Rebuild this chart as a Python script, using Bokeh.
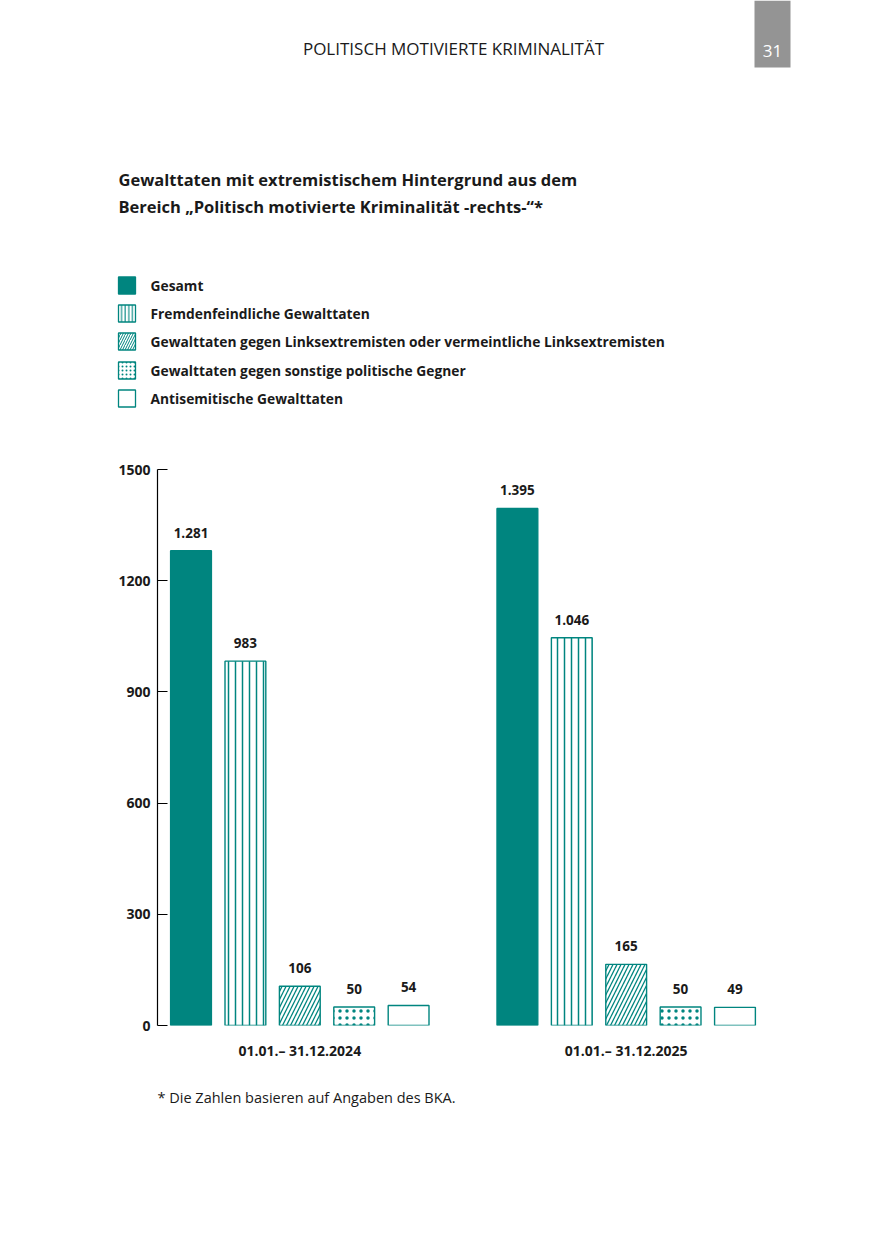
from bokeh.plotting import figure
from bokeh.models import Range1d, FixedTicker, ColumnDataSource
from bokeh.embed import file_html
from bokeh.resources import INLINE
from bokeh.core.properties import value

# ---------------- data ----------------
periods = ["01.01.\u2013 31.12.2024", "01.01.\u2013 31.12.2025"]
categories = [
    "Gesamt",
    "Fremdenfeindliche Gewalttaten",
    "Gewalttaten gegen Linksextremisten oder vermeintliche Linksextremisten",
    "Gewalttaten gegen sonstige politische Gegner",
    "Antisemitische Gewalttaten",
]
values_2024 = [1281, 983, 106, 50, 54]
values_2025 = [1395, 1046, 165, 50, 49]
y_ticks = [0, 300, 600, 900, 1200, 1500]

header = "POLITISCH MOTIVIERTE KRIMINALITÄT"
page_no = "31"
title_lines = ["Gewalttaten mit extremistischem Hintergrund aus dem",
               "Bereich \u201ePolitisch motivierte Kriminalität -rechts-\u201c*"]
footnote = "* Die Zahlen basieren auf Angaben des BKA."

# ---------------- style ----------------
TEAL = "#00857F"
INK = "#1a1a1a"
FONT = "Open Sans"
patterns = [" ", "|", "/", ".", " "]
fills = [TEAL, "white", "white", "white", "white"]
hscale = [7, 7, 8, 7, 7]
hweight = [1.5, 1.5, 1.3, 0.45, 1.0]
leg_scale = [4, 3.6, 5, 4, 4]
leg_weight = [1, 1.1, 1.0, 0.35, 1]

W = 859


def blank(height):
    f = figure(width=W, height=height, x_range=Range1d(0, W), y_range=Range1d(height, 0),
               output_backend="svg", toolbar_location=None, min_border=0)
    f.axis.visible = False
    f.grid.visible = False
    f.outline_line_color = None
    return f


# ---------------- figure A: header, title, legend (page pixels) ----------------
HA = 440
pa = blank(HA)
pa.quad(left=[754], right=[790], top=[0], bottom=[67], fill_color="#949494", line_color=None)
pa.text(x=[772], y=[50], text=[page_no], text_color="white", text_font=value(FONT),
        text_font_size="17px", text_align="center", text_baseline="middle")
pa.text(x=[453], y=[48], text=[header], text_color=INK, text_font=value(FONT),
        text_font_size="17px", text_align="center", text_baseline="middle")
pa.text(x=[118, 118], y=[179, 206], text=title_lines, text_color=INK,
        text_font=value(FONT), text_font_size="16.5px", text_font_style="bold",
        text_align="left", text_baseline="middle")

leg_y = [285, 313, 341, 370, 398]
leg_src = ColumnDataSource(dict(y=leg_y, fill=fills, pat=patterns, hs=leg_scale,
                                hw=leg_weight, lab=categories))
pa.rect(x=126.5, y="y", width=17, height=17, source=leg_src, fill_color="fill",
        line_color=TEAL, line_width=1.3, hatch_pattern="pat", hatch_color=TEAL,
        hatch_scale="hs", hatch_weight="hw")
pa.text(x=150, y="y", text="lab", source=leg_src, text_color=INK,
        text_font=value(FONT), text_font_size="13.8px", text_font_style="bold",
        text_align="left", text_baseline="middle")

# ---------------- figure B: bar chart ----------------
FL, FW, FH = 157, 621, 556
TOP_B = 469 - HA
HB = TOP_B + FH + 45
x_lo, x_hi = -0.616, 10.8
pb = figure(width=W, height=HB, x_range=Range1d(x_lo, x_hi), y_range=Range1d(0, 1500),
            output_backend="svg", toolbar_location=None,
            min_border_left=FL, min_border_right=W - FL - FW,
            min_border_top=TOP_B, min_border_bottom=HB - TOP_B - FH)
pb.outline_line_color = None
pb.grid.visible = False

GAP = 6
for g, vals in enumerate([values_2024, values_2025]):
    xs = [g * GAP + i for i in range(len(vals))]
    src = ColumnDataSource(dict(
        x=xs, top=vals, fill=fills, pat=patterns, hs=hscale, hw=hweight,
        lab=[f"{v:,}".replace(",", ".") for v in vals]))
    pb.vbar(x="x", top="top", width=0.75, bottom=0, source=src,
            fill_color="fill", line_color=TEAL, line_width=1.4,
            hatch_pattern="pat", hatch_color=TEAL, hatch_scale="hs", hatch_weight="hw")
    pb.text(x="x", y="top", text="lab", source=src, y_offset=-18,
            text_font=value(FONT), text_font_size="13.5px", text_font_style="bold",
            text_color=INK, text_align="center", text_baseline="middle")

ya = pb.yaxis[0]
ya.ticker = FixedTicker(ticks=y_ticks)
ya.bounds = (0, 1500)
ya.major_tick_in = 10
ya.major_tick_out = 0
ya.minor_tick_line_color = None
ya.axis_line_color = "black"
ya.axis_line_width = 1.2
ya.major_tick_line_width = 1.2
ya.major_label_standoff = 7
ya.major_label_text_font = FONT
ya.major_label_text_font_size = "14px"
ya.major_label_text_font_style = "bold"
ya.major_label_text_color = INK

xa = pb.xaxis[0]
group_centers = [g * GAP + (len(categories) - 1) / 2 for g in range(len(periods))]
xa.ticker = FixedTicker(ticks=group_centers)
xa.major_label_overrides = {c: lab for c, lab in zip(group_centers, periods)}
xa.axis_line_color = None
xa.major_tick_line_color = None
xa.major_tick_in = 0
xa.major_tick_out = 0
xa.minor_tick_line_color = None
xa.major_label_standoff = 15
xa.major_label_text_font = FONT
xa.major_label_text_font_size = "14px"
xa.major_label_text_font_style = "bold"
xa.major_label_text_color = INK

# ---------------- figure C: footnote ----------------
HC = 1225 - HA - HB
pc = blank(HC)
pc.text(x=[157], y=[1097 - HA - HB], text=[footnote], text_color=INK,
        text_font=value(FONT), text_font_size="14.5px",
        text_align="left", text_baseline="middle")

open("out.html", "w").write(file_html([pa, pb, pc], INLINE))
